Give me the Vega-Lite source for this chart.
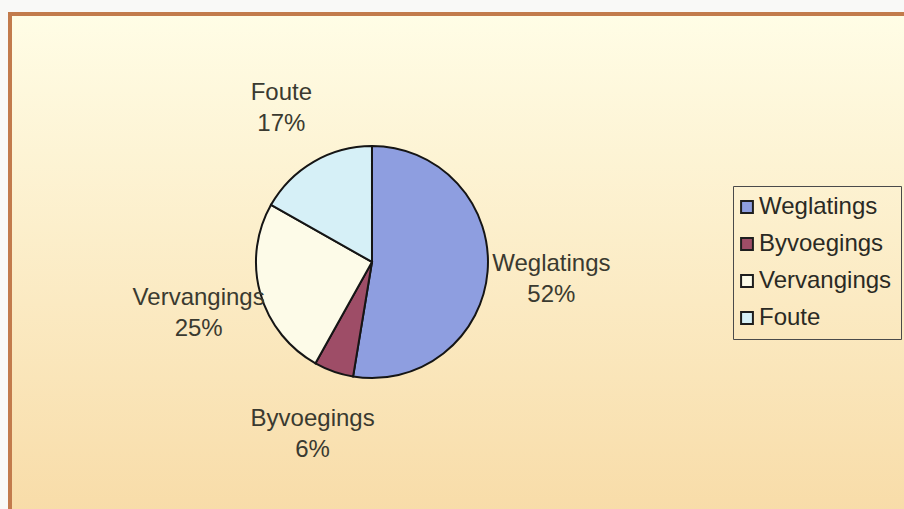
{
  "$schema": "https://vega.github.io/schema/vega-lite/v6.json",
  "width": 904,
  "height": 509,
  "autosize": {"type": "fit", "contains": "padding"},
  "padding": {"left": 10, "top": 14, "right": -6, "bottom": -6},
  "background": "#f9f9f7",
  "data": {
    "values": [
      {"i": 1, "category": "Weglatings", "value": 52.6, "label": "Weglatings\n52%"},
      {"i": 2, "category": "Byvoegings", "value": 5.5, "label": "Byvoegings\n6%"},
      {"i": 3, "category": "Vervangings", "value": 25.1, "label": "Vervangings\n25%"},
      {"i": 4, "category": "Foute", "value": 16.8, "label": "Foute\n17%"}
    ]
  },
  "encoding": {
    "theta": {"field": "value", "type": "quantitative", "stack": true},
    "order": {"field": "i", "type": "quantitative"},
    "x": {"datum": 0.4022, "type": "quantitative", "scale": {"domain": [0, 1], "nice": false, "zero": false}, "axis": null},
    "y": {"datum": 0.505, "type": "quantitative", "scale": {"domain": [0, 1], "nice": false, "zero": false}, "axis": null}
  },
  "layer": [
    {
      "mark": {"type": "arc", "outerRadius": 116, "stroke": "#151515", "strokeWidth": 2},
      "encoding": {
        "color": {
          "field": "category",
          "type": "nominal",
          "scale": {
            "domain": ["Weglatings", "Byvoegings", "Vervangings", "Foute"],
            "range": ["#8e9ee0", "#9e4d67", "#fdfbe8", "#d6f0f7"]
          },
          "legend": {
            "title": null,
            "orient": "none",
            "legendX": 723,
            "legendY": 172,
            "padding": 9,
            "strokeColor": "#4a4a4a",
            "symbolType": "square",
            "symbolSize": 140,
            "symbolOffset": -7,
            "symbolStrokeColor": "#1e1e1e",
            "symbolStrokeWidth": 2,
            "labelFont": "Liberation Sans",
            "labelFontSize": 24,
            "labelColor": "#2a2a24",
            "labelOffset": 0,
            "rowPadding": 13,
            "labelLimit": 300
          }
        }
      }
    },
    {
      "mark": {"type": "text", "radius": 180, "dy": -13, "font": "Liberation Sans", "fontSize": 24, "lineHeight": 31, "lineBreak": "\n", "color": "#3a3a30"},
      "encoding": {
        "text": {"field": "label", "type": "nominal"}
      }
    }
  ],
  "config": {
    "view": {
      "fill": {
        "gradient": "linear",
        "x1": 0, "y1": 0, "x2": 0, "y2": 1,
        "stops": [
          {"offset": 0, "color": "#fffde6"},
          {"offset": 1, "color": "#f8dca8"}
        ]
      },
      "stroke": "#c27b4c",
      "strokeWidth": 4
    }
  }
}
